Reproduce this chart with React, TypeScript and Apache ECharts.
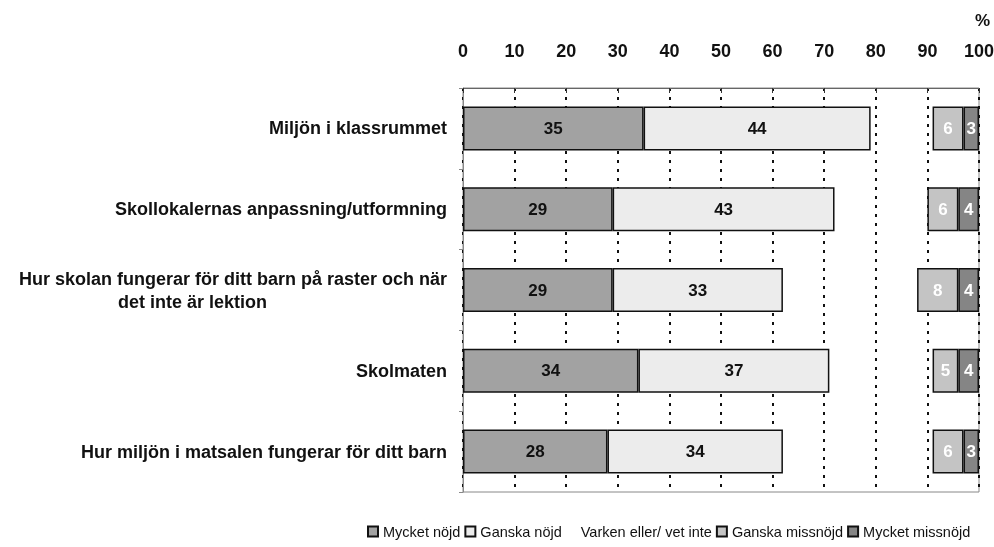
import React, { useEffect, useRef } from "react";
import * as echarts from "echarts";

const categories = [
  "Miljön i klassrummet",
  "Skollokalernas anpassning/utformning",
  "Hur skolan fungerar för ditt barn på raster och när\ndet inte är lektion",
  "Skolmaten",
  "Hur miljön i matsalen fungerar för ditt barn",
];
const seriesNames = [
  "Mycket nöjd",
  "Ganska nöjd",
  "Varken eller/ vet inte",
  "Ganska missnöjd",
  "Mycket missnöjd",
];
const mycketNojd = [35, 29, 29, 34, 28];
const ganskaNojd = [44, 43, 33, 37, 34];
const varkenEller = [12, 18, 26, 20, 29];
const ganskaMissnojd = [6, 6, 8, 5, 6];
const mycketMissnojd = [3, 4, 4, 4, 3];
const xTicks = [0, 10, 20, 30, 40, 50, 60, 70, 80, 90, 100];

const FONT = "'Liberation Sans', Arial, sans-serif";

export default function App() {
  const ref = useRef<HTMLDivElement>(null);
  useEffect(() => {
    const chart = echarts.init(ref.current!, null, { renderer: "svg" });
    const values = [mycketNojd, ganskaNojd, varkenEller, ganskaMissnojd, mycketMissnojd];
    const colors = ["#a2a2a2", "#ececec", "transparent", "#c4c4c4", "#858585"];
    const labelColors = ["#111", "#111", "#111", "#fff", "#fff"];
    const series = values.map((data, i) => ({
      name: seriesNames[i],
      type: "bar",
      stack: "total",
      barWidth: 44,
      data,
      itemStyle:
        i === 2
          ? { color: "rgba(0,0,0,0)", borderWidth: 0 }
          : { color: colors[i], borderColor: "#111", borderWidth: 1.5 },
      label: {
        show: i !== 2,
        position: "inside",
        color: labelColors[i],
        fontFamily: FONT,
        fontWeight: "bold",
        fontSize: 17,
      },
    }));
    chart.setOption({
      animation: false,
      title: {
        text: "%",
        left: 970,
        top: 7,
        textStyle: { fontFamily: FONT, fontWeight: "bold", fontSize: 17, color: "#111" },
      },
      grid: {
        left: 463,
        right: 15,
        top: 88,
        bottom: 55,
        show: true,
        borderColor: "#888",
        borderWidth: 1,
        outerBoundsMode: "none",
        containLabel: false,
      },
      legend: {
        left: 362,
        top: 519,
        icon: "rect",
        itemWidth: 10,
        itemHeight: 10,
        itemGap: 4,
        data: seriesNames,
        textStyle: { fontFamily: FONT, fontSize: 14.5, color: "#111" },
      },
      xAxis: {
        type: "value",
        position: "top",
        min: 0,
        max: 100,
        interval: 10,
        axisLine: { show: true, lineStyle: { color: "#666", width: 1 } },
        axisTick: { show: true, length: 5, inside: true, lineStyle: { color: "#333" } },
        axisLabel: {
          margin: 28,
          fontFamily: FONT,
          fontWeight: "bold",
          fontSize: 18,
          color: "#111",
          formatter: (v: number) => (xTicks.includes(v) ? String(v) : ""),
        },
        splitLine: { show: true, lineStyle: { color: "#111", width: 2, type: [3, 6] } },
      },
      yAxis: {
        type: "category",
        inverse: true,
        data: categories,
        axisLine: { show: true, lineStyle: { color: "#888", width: 1 } },
        axisTick: { show: true, length: 4, lineStyle: { color: "#888" } },
        axisLabel: {
          margin: 16,
          color: "#111",
          fontFamily: FONT,
          fontWeight: "bold",
          fontSize: 18,
          lineHeight: 23,
          formatter: (v: string) => {
            const parts = v.split("\n");
            if (parts.length === 1) return `{a|${v}}`;
            return `{a|${parts[0]}}\n{b|${parts[1]}}`;
          },
          rich: {
            a: { fontFamily: FONT, fontWeight: "bold", fontSize: 18, color: "#111", lineHeight: 23 },
            b: {
              fontFamily: FONT,
              fontWeight: "bold",
              fontSize: 18,
              color: "#111",
              lineHeight: 23,
              padding: [0, 180, 0, 0],
            },
          },
        },
      },
      series,
    });
    return () => chart.dispose();
  }, []);
  return (
    <div
      ref={ref}
      style={{ position: "fixed", left: 0, top: 0, width: 994, height: 547 }}
    />
  );
}
